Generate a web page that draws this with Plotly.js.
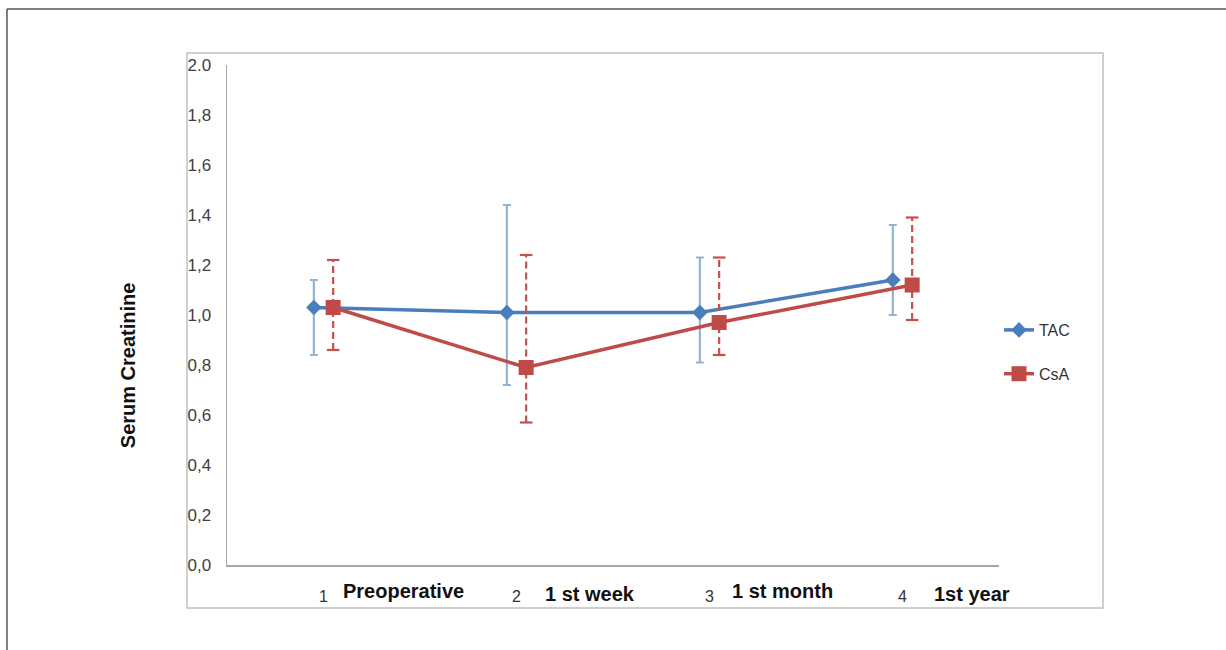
<!DOCTYPE html>
<html>
<head>
<meta charset="utf-8">
<script src="https://cdn.plot.ly/plotly-3.0.1.min.js"></script>
<style>html,body{margin:0;padding:0;background:#fff;}#chart{width:1226px;height:650px;}</style>
</head>
<body>
<div id="chart"></div>
<script>
// ---- data ----
const categories = [1, 2, 3, 4];
const categoryNumbers = ["1", "2", "3", "4"];
const categoryNames = ["Preoperative", "1 st week", "1 st month", "1st year"];

const tacMean  = [1.03, 1.01, 1.01, 1.14];
const tacUpper = [1.14, 1.44, 1.23, 1.36];
const tacLower = [0.84, 0.72, 0.81, 1.00];

const csaMean  = [1.03, 0.79, 0.97, 1.12];
const csaUpper = [1.22, 1.24, 1.23, 1.39];
const csaLower = [0.86, 0.57, 0.84, 0.98];

const yTickVals = [0, 0.2, 0.4, 0.6, 0.8, 1.0, 1.2, 1.4, 1.6, 1.8, 2.0];
const yTickText = ["0,0", "0,2", "0,4", "0,6", "0,8", "1,0", "1,2", "1,4", "1,6", "1,8", "2.0"];

// ---- styling helpers (not data) ----
const shift = 0.05;
const nameOffsets = [0.09, 0.135, 0.105, 0.155];
const nameYShift = [1, -2, 1, -2];

const tacX = categories.map(c => c - shift);
const csaX = categories.map(c => c + shift);

const TAC_COLOR = '#4a7ebb';
const CSA_COLOR = '#be4b48';
const CSA_ERR = '#c5504d';

// dashed error bars for CsA built from the data arrays
const csaErrX = [], csaErrY = [];
const csaCapX = [], csaCapY = [];
csaX.forEach((x, i) => {
  csaErrX.push(x, x, null);
  csaErrY.push(csaLower[i], csaUpper[i], null);
  csaCapX.push(x, x);
  csaCapY.push(csaLower[i], csaUpper[i]);
});

const FONT = 'Liberation Sans, Arial, sans-serif';

const traces = [
  {
    x: tacX, y: tacMean, name: 'TAC', type: 'scatter', mode: 'lines+markers',
    legendgroup: 'a',
    line: {color: TAC_COLOR, width: 3.5},
    marker: {symbol: 'diamond', size: 12, color: TAC_COLOR},
    error_y: {
      type: 'data', symmetric: false,
      array: tacUpper.map((u, i) => u - tacMean[i]),
      arrayminus: tacMean.map((m, i) => m - tacLower[i]),
      color: '#93b3d6', thickness: 2.2, width: 4
    }
  },
  {
    x: csaErrX, y: csaErrY, type: 'scatter', mode: 'lines', showlegend: false, hoverinfo: 'skip',
    line: {color: CSA_ERR, width: 2.2, dash: '7px,4px'}
  },
  {
    x: csaCapX, y: csaCapY, type: 'scatter', mode: 'markers', showlegend: false, hoverinfo: 'skip',
    marker: {symbol: 'line-ew-open', size: 9, color: CSA_ERR, line: {color: CSA_ERR, width: 2.2}}
  },
  {
    x: csaX, y: csaMean, name: 'CsA', type: 'scatter', mode: 'lines+markers',
    legendgroup: 'b',
    line: {color: CSA_COLOR, width: 3.5},
    marker: {symbol: 'square', size: 15, color: CSA_COLOR}
  }
];

const annotations = categoryNames.map((n, i) => ({
  text: '<b>' + n + '</b>', x: categories[i] + nameOffsets[i], xref: 'x',
  y: -0.054, yref: 'paper', xanchor: 'left', yanchor: 'middle', yshift: nameYShift[i],
  showarrow: false, font: {family: FONT, size: 20, color: '#111'}
}));
annotations.push({
  text: '<b>Serum Creatinine</b>', textangle: -90,
  x: -0.128, xref: 'paper', y: 0.4, yref: 'paper', xanchor: 'center', yanchor: 'middle',
  showarrow: false, font: {family: FONT, size: 20, color: '#111'}
});

const layout = {
  width: 1226, height: 650,
  margin: {l: 227, r: 227, t: 65, b: 85},
  paper_bgcolor: '#ffffff', plot_bgcolor: '#ffffff',
  showlegend: true,
  legend: {
    x: 1.0, y: 0.504, xanchor: 'left', yanchor: 'top',
    traceorder: 'grouped', tracegroupgap: 20,
    font: {family: FONT, size: 16, color: '#333'},
    itemwidth: 30, bgcolor: 'rgba(0,0,0,0)'
  },
  xaxis: {
    range: [0.5, 4.5], tickvals: categories, ticktext: categoryNumbers,
    showgrid: false, zeroline: false, showline: true, linecolor: '#a6a6a6', linewidth: 1.5,
    ticks: '', ticklabelstandoff: 16,
    tickfont: {family: FONT, size: 16, color: '#333'},
    fixedrange: true
  },
  yaxis: {
    range: [0, 2.0], tickvals: yTickVals, ticktext: yTickText,
    showgrid: false, zeroline: false, showline: true, linecolor: '#a6a6a6', linewidth: 1.5,
    ticks: '', ticklabelstandoff: 11,
    tickfont: {family: FONT, size: 17, color: '#404040'},
    fixedrange: true
  },
  annotations: annotations,
  shapes: [
    {type: 'rect', xref: 'paper', yref: 'paper', x0: -0.0518, x1: 1.1347, y0: -0.086, y1: 1.024,
     line: {color: '#c0c0c0', width: 1.5}, layer: 'below'},
    {type: 'line', xref: 'paper', yref: 'paper', x0: -0.285, x1: 1.3, y0: 1.112, y1: 1.112,
     line: {color: '#555', width: 1.5}},
    {type: 'line', xref: 'paper', yref: 'paper', x0: -0.285, x1: -0.285, y0: 1.112, y1: -0.2,
     line: {color: '#555', width: 1.5}}
  ]
};

Plotly.newPlot('chart', traces, layout, {displayModeBar: false, staticPlot: true});
</script>
</body>
</html>
